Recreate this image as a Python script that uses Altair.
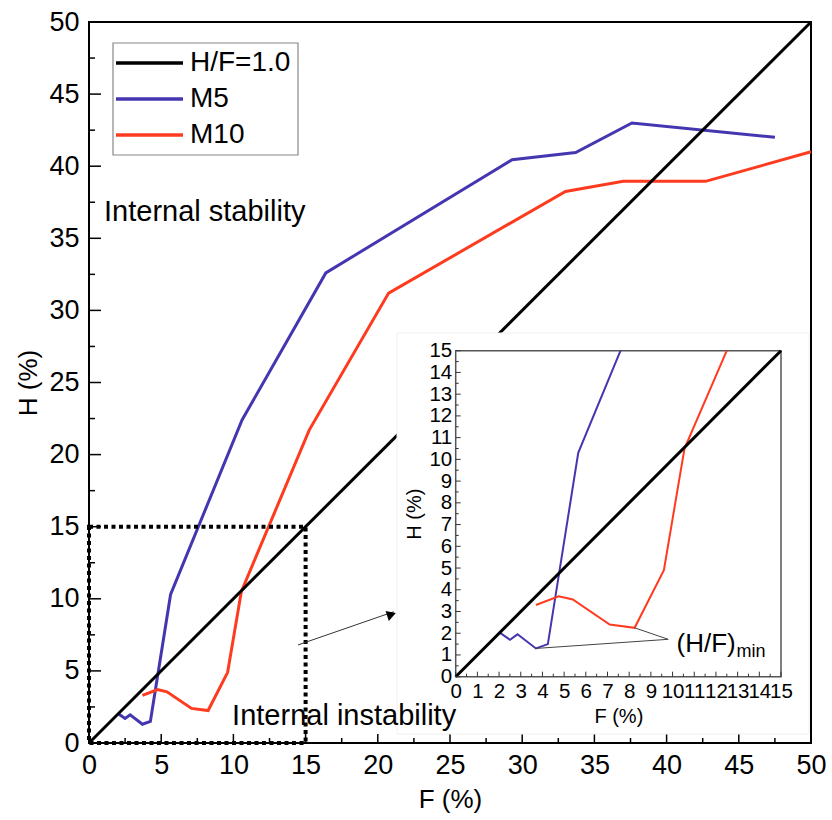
import altair as alt
import pandas as pd

# ---------------- data ----------------
SERIES = ["H/F=1.0", "M5", "M10"]
COLORS = ["#000000", "#4436B0", "#FF3B1F"]

REF_F = [0, 50]
REF_H = [0, 50]

M5_F = [2.0, 2.5, 2.85, 3.7, 4.25, 5.65, 10.6, 16.4, 29.3, 33.7, 37.6, 47.5]
M5_H = [2.05, 1.7, 1.95, 1.3, 1.5, 10.3, 22.4, 32.6, 40.45, 40.95, 43.0, 42.0]

M10_F = [3.7, 4.75, 5.4, 7.1, 8.25, 9.6, 10.55, 15.25, 20.75, 33.0, 37.0, 42.7, 50.0]
M10_H = [3.3, 3.7, 3.55, 2.4, 2.25, 4.9, 10.5, 21.7, 31.2, 38.25, 38.95, 38.95, 41.0]

# where each curve leaves the inset frame (H = 15)
INSET_EXIT_F = [7.6, 12.5]
INSET_MAX = 15

MAIN_TICKS = [0, 5, 10, 15, 20, 25, 30, 35, 40, 45, 50]
MAIN_MINOR = [2.5, 7.5, 12.5, 17.5, 22.5, 27.5, 32.5, 37.5, 42.5, 47.5]
INSET_TICKS = list(range(0, 16))
INSET_MINOR = [0.5 + i for i in range(15)]

# (H/F)min leaders: label anchor -> minimum points
LEADER_FROM = (9.8, 1.72)
MIN_F = [3.7, 8.25]
MIN_H = [1.3, 2.25]

FONT = "Liberation Sans"
W, H = 722, 721

# ---------------- tables ----------------
def series_df(name, color, F, Hs):
    return pd.DataFrame({"series": name, "color": color, "F": F, "H": Hs,
                         "ord": list(range(len(F)))})

ref_df = series_df(SERIES[0], COLORS[0], REF_F, REF_H)
m5_df = series_df(SERIES[1], COLORS[1], M5_F, M5_H)
m10_df = series_df(SERIES[2], COLORS[2], M10_F, M10_H)
curves = pd.concat([m5_df, m10_df], ignore_index=True)

inset_parts = []
for df, ef in zip([m5_df, m10_df], INSET_EXIT_F):
    part = df[df["H"] <= INSET_MAX].copy()
    extra = pd.DataFrame({"series": df["series"].iloc[0], "color": df["color"].iloc[0],
                          "F": [ef], "H": [INSET_MAX], "ord": [len(part)]})
    inset_parts.append(pd.concat([part, extra], ignore_index=True))
inset_curves = pd.concat(inset_parts, ignore_index=True)
inset_ref = pd.DataFrame({"F": [0, INSET_MAX], "H": [0, INSET_MAX]})

# ---------------- scales / axes ----------------
main_xs = alt.Scale(domain=[0, 50], nice=False, zero=False)
main_ys = alt.Scale(domain=[0, 50], nice=False, zero=False)
IX0, IX1 = 366.7, 692.0
IY0, IY1 = 654.7, 328.7
inset_xs = alt.Scale(domain=[0, 15], range=[IX0, IX1], nice=False, zero=False)
inset_ys = alt.Scale(domain=[0, 15], range=[IY0, IY1], nice=False, zero=False)

main_xaxis = alt.Axis(orient="bottom", values=MAIN_TICKS, ticks=False, domain=False, grid=False,
                      labelFontSize=27, labelPadding=9, title="F (%)", titleFontSize=26,
                      titlePadding=8, labelOverlap=False, labelFlush=False)
main_yaxis = alt.Axis(orient="left", values=MAIN_TICKS, ticks=False, domain=False, grid=False,
                      labelFontSize=27, labelPadding=10, title="H (%)", titleFontSize=26,
                      titlePadding=7, labelOverlap=False, labelFlush=False)
inset_xaxis = alt.Axis(orient="bottom", offset=-(H - IY0), values=INSET_TICKS, ticks=False,
                       domain=False, grid=False, labelFontSize=20.5, labelPadding=5,
                       title="F (%)", titleFontSize=20, titlePadding=4, labelOverlap=False,
                       labelFlush=False, zindex=2)
inset_yaxis = alt.Axis(orient="left", offset=-IX0, values=INSET_TICKS, ticks=False,
                       domain=False, grid=False, labelFontSize=20.5, labelPadding=4,
                       title="H (%)", titleFontSize=20, titlePadding=4, labelOverlap=False,
                       labelFlush=False, zindex=2)


def mx(f, axis=True):
    return alt.X(f"{f}:Q", scale=main_xs, axis=main_xaxis if axis else None)


def my(f, axis=True):
    return alt.Y(f"{f}:Q", scale=main_ys, axis=main_yaxis if axis else None)


def ix(f):
    return alt.X(f"{f}:Q", scale=inset_xs, axis=inset_xaxis)


def iy(f):
    return alt.Y(f"{f}:Q", scale=inset_ys, axis=inset_yaxis)


# ---------------- main panel ----------------
main_curves = alt.Chart(curves).mark_line(strokeWidth=3).encode(
    x=mx("F"), y=my("H"), color=alt.Color("color:N", scale=None),
    detail="series:N", order="ord:Q")
main_ref = alt.Chart(ref_df).mark_line(strokeWidth=3, color="black").encode(
    x=mx("F"), y=my("H"))

box_df = pd.DataFrame({"x0": [0], "x1": [INSET_MAX], "y0": [0], "y1": [INSET_MAX]})
dotted_box = alt.Chart(box_df).mark_rect(fillOpacity=0, stroke="black", strokeWidth=4,
                                         strokeDash=[4, 3.5]).encode(
    x=mx("x0"), x2="x1", y=my("y0"), y2="y1")

xt_major = alt.Chart(pd.DataFrame({"v": MAIN_TICKS})).mark_rule(color="black", strokeWidth=1.5).encode(
    x=mx("v"), y=alt.value(H), y2=alt.value(H - 9))
xt_minor = alt.Chart(pd.DataFrame({"v": MAIN_MINOR})).mark_rule(color="black", strokeWidth=1.5).encode(
    x=mx("v"), y=alt.value(H), y2=alt.value(H - 5))
yt_major = alt.Chart(pd.DataFrame({"v": MAIN_TICKS})).mark_rule(color="black", strokeWidth=1.5).encode(
    y=my("v"), x=alt.value(0), x2=alt.value(12))
yt_minor = alt.Chart(pd.DataFrame({"v": MAIN_MINOR})).mark_rule(color="black", strokeWidth=1.5).encode(
    y=my("v"), x=alt.value(0), x2=alt.value(6))

main_layer = alt.layer(main_curves, main_ref, dotted_box, xt_major, xt_minor, yt_major, yt_minor)

# ---------------- inset ----------------
panel = alt.Chart(pd.DataFrame({"a": [0]})).mark_rect(fill="white", stroke="#f0f0f0",
                                                      strokeWidth=1).encode(
    x=alt.value(308), x2=alt.value(720), y=alt.value(311), y2=alt.value(712))
inset_frame = alt.Chart(box_df).mark_rect(fillOpacity=0, stroke="#555555", strokeWidth=1.5).encode(
    x=ix("x0"), x2="x1", y=iy("y0"), y2="y1")
inset_lines = alt.Chart(inset_curves).mark_line(strokeWidth=2).encode(
    x=ix("F"), y=iy("H"), color=alt.Color("color:N", scale=None),
    detail="series:N", order="ord:Q")
inset_diag = alt.Chart(inset_ref).mark_line(strokeWidth=3, color="black").encode(
    x=ix("F"), y=iy("H"))

ixt_major = alt.Chart(pd.DataFrame({"v": INSET_TICKS})).mark_rule(color="#333", strokeWidth=1).encode(
    x=ix("v"), y=alt.value(IY0), y2=alt.value(IY0 - 5))
ixt_minor = alt.Chart(pd.DataFrame({"v": INSET_MINOR})).mark_rule(color="#333", strokeWidth=1).encode(
    x=ix("v"), y=alt.value(IY0), y2=alt.value(IY0 - 3))
iyt_major = alt.Chart(pd.DataFrame({"v": INSET_TICKS})).mark_rule(color="#333", strokeWidth=1).encode(
    y=iy("v"), x=alt.value(IX0), x2=alt.value(IX0 + 5))
iyt_minor = alt.Chart(pd.DataFrame({"v": INSET_MINOR})).mark_rule(color="#333", strokeWidth=1).encode(
    y=iy("v"), x=alt.value(IX0), x2=alt.value(IX0 + 3))

leader_df = pd.DataFrame({"F": [LEADER_FROM[0]] * 2, "H": [LEADER_FROM[1]] * 2,
                          "F2": MIN_F, "H2": MIN_H})
leaders = alt.Chart(leader_df).mark_rule(color="#444", strokeWidth=1).encode(
    x=ix("F"), y=iy("H"), x2="F2", y2="H2")
hf_df = pd.DataFrame({"F": [10.18], "H": [1.15], "t": ["(H/F)"]})
hf_text = alt.Chart(hf_df).mark_text(align="left", baseline="alphabetic", fontSize=26,
                                     color="black").encode(x=ix("F"), y=iy("H"), text="t:N")
min_df = pd.DataFrame({"F": [12.95], "H": [0.9], "t": ["min"]})
min_text = alt.Chart(min_df).mark_text(align="left", baseline="alphabetic", fontSize=18,
                                       color="black").encode(x=ix("F"), y=iy("H"), text="t:N")

inset_layer = alt.layer(panel, inset_frame, inset_lines, inset_diag, ixt_major, ixt_minor,
                        iyt_major, iyt_minor, leaders, hf_text, min_text)

# ---------------- overlay: notes, arrow, legend ----------------
notes_df = pd.DataFrame({"F": [1.04, 9.91], "H": [36.2, 1.25],
                         "t": ["Internal stability", "Internal instability"]})
notes = alt.Chart(notes_df).mark_text(align="left", baseline="alphabetic", fontSize=29,
                                      color="black").encode(
    x=mx("F", False), y=my("H", False), text="t:N")

arrow_df = pd.DataFrame({"F": [14.47], "H": [6.8], "F2": [21.1], "H2": [9.1]})
arrow_line = alt.Chart(arrow_df).mark_rule(color="#333", strokeWidth=1).encode(
    x=mx("F", False), y=my("H", False), x2="F2", y2="H2")
head_df = pd.DataFrame({"F": [20.95], "H": [8.91]})
arrow_head = alt.Chart(head_df).mark_point(shape="triangle-right", filled=True, color="black",
                                           size=110, angle=342, opacity=1).encode(
    x=mx("F", False), y=my("H", False))

leg_df = pd.DataFrame({"series": SERIES, "color": COLORS})
leg_df["ly"] = [41 + 36 * i for i in range(len(SERIES))]
leg_box = alt.Chart(pd.DataFrame({"a": [0]})).mark_rect(fill="white", stroke="#888888",
                                                        strokeWidth=1.2).encode(
    x=alt.value(24), x2=alt.value(209), y=alt.value(21), y2=alt.value(133))
leg_lines = alt.Chart(leg_df).mark_rule(strokeWidth=3.5).encode(
    x=alt.value(27), x2=alt.value(94), y=alt.Y("ly:Q", scale=None),
    color=alt.Color("color:N", scale=None))
leg_text = alt.Chart(leg_df).mark_text(align="left", baseline="middle", fontSize=28,
                                       color="black").encode(
    x=alt.value(101), y=alt.Y("ly:Q", scale=None), text="series:N")

overlay = alt.layer(notes, arrow_line, arrow_head, leg_box, leg_lines, leg_text)

chart = alt.layer(main_layer, inset_layer, overlay).resolve_scale(
    x="independent", y="independent"
).properties(
    width=W, height=H,
    autosize=alt.AutoSizeParams(type="none"),
    padding={"left": 89, "top": 22, "right": 21, "bottom": 77},
).configure_axis(
    labelFont=FONT, titleFont=FONT, labelColor="black", titleColor="black",
    titleFontWeight="normal", grid=False,
).configure_text(font=FONT).configure_view(stroke="black", strokeWidth=2)

chart.save("out.html", embed_options={"renderer": "svg", "actions": False})
